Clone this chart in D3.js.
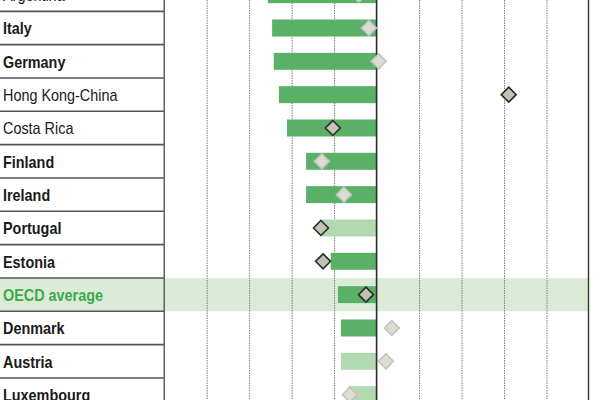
<!DOCTYPE html>
<html>
<head>
<meta charset="utf-8">
<script src="https://cdn.jsdelivr.net/npm/d3@7"></script>
<style>
  html, body { margin: 0; padding: 0; background: #fff; }
  svg { display: block; }
  .label { font-family: "Liberation Sans", Arial, sans-serif; }
</style>
</head>
<body>
<div id="chart"></div>
<script>
const countries = ["Argentina", "Italy", "Germany", "Hong Kong-China", "Costa Rica", "Finland", "Ireland",
  "Portugal", "Estonia", "OECD average", "Denmark", "Austria", "Luxembourg"];
// bar values (change, negative to the left of zero)
const barValues = [-25.6, -24.6, -24.2, -23.0, -21.1, -16.6, -16.6, -12.9, -10.8, -9.1, -8.4, -8.4, -6.5];
// is the bar significant (dark) or not (light)
const barSignificant = [true, true, true, true, true, true, true, false, true, true, true, false, false];
// diamond marker values
const markerValues = [-4.2, -1.8, 0.5, 31.1, -10.3, -12.9, -7.7, -13.1, -12.6, -2.5, 3.6, 2.2, -6.3];
const markerSignificant = [false, false, false, true, true, false, false, true, true, true, false, false, false];
// non-OECD countries are set in regular weight
const partners = ["Argentina", "Hong Kong-China", "Costa Rica"];
const gridTicks = [-40, -30, -20, -10, 10, 20, 30, 40];

const width = 600;
const height = 400;
const labelWidth = 164;

const svg = d3.select("#chart").append("svg")
  .attr("width", width)
  .attr("height", height);

const x = d3.scaleLinear()
  .domain([-50, 50])
  .range([164.2, 589]);

const y = d3.scaleBand()
  .domain(countries)
  .range([-22, 411.3]);

const rows = countries.map((c, i) => ({
  name: c,
  bar: barValues[i],
  barSig: barSignificant[i],
  marker: markerValues[i],
  markerSig: markerSignificant[i]
}));

// OECD average highlight band
svg.append("rect")
  .attr("x", 0)
  .attr("y", y("OECD average"))
  .attr("width", x(50))
  .attr("height", y.bandwidth())
  .attr("fill", "#dcebd8");

// dotted gridlines
svg.append("g")
  .selectAll("line")
  .data(gridTicks)
  .enter().append("line")
  .attr("x1", d => x(d) + 0.5)
  .attr("x2", d => x(d) + 0.5)
  .attr("y1", 0)
  .attr("y2", height)
  .attr("stroke", "#7a7a7a")
  .attr("stroke-width", 1)
  .attr("stroke-dasharray", "1.5,1");

// row separators in the label column
svg.append("g")
  .selectAll("line")
  .data(countries.slice(1))
  .enter().append("line")
  .attr("x1", 0)
  .attr("x2", labelWidth)
  .attr("y1", d => y(d))
  .attr("y2", d => y(d))
  .attr("stroke", "#555")
  .attr("stroke-width", 1.6);

// label column border and right frame
svg.append("line")
  .attr("x1", x(-50)).attr("x2", x(-50))
  .attr("y1", 0).attr("y2", height)
  .attr("stroke", "#555").attr("stroke-width", 1.4);
svg.append("line")
  .attr("x1", x(50) - 0.5).attr("x2", x(50) - 0.5)
  .attr("y1", 0).attr("y2", height)
  .attr("stroke", "#333").attr("stroke-width", 1.4);

// labels (narrowed to mimic the condensed face)
svg.append("g")
  .selectAll("text")
  .data(rows)
  .enter().append("text")
  .attr("class", "label")
  .attr("transform", d => `translate(3,${y(d.name) + y.bandwidth() / 2 + 6.5}) scale(0.9,1)`)
  .attr("font-size", 16)
  .attr("font-weight", d => partners.includes(d.name) ? "normal" : "bold")
  .attr("fill", d => d.name === "OECD average" ? "#3ea84e" : "#1a1a1a")
  .text(d => d.name);

// bars
const barH = 17;
svg.append("g")
  .selectAll("rect")
  .data(rows)
  .enter().append("rect")
  .attr("x", d => x(Math.min(0, d.bar)))
  .attr("y", d => y(d.name) + (y.bandwidth() - barH) / 2)
  .attr("width", d => Math.abs(x(d.bar) - x(0)))
  .attr("height", barH)
  .attr("fill", d => d.barSig ? "#5bb068" : "#b3d9b0");

// zero line
svg.append("line")
  .attr("x1", x(0)).attr("x2", x(0))
  .attr("y1", 0).attr("y2", height)
  .attr("stroke", "#2b2b2b").attr("stroke-width", 1.6);

// diamonds
const dm = 7.5;
svg.append("g")
  .selectAll("path")
  .data(rows)
  .enter().append("path")
  .attr("transform", d => `translate(${x(d.marker)},${y(d.name) + y.bandwidth() / 2})`)
  .attr("d", `M0,${-dm}L${dm},0L0,${dm}L${-dm},0Z`)
  .attr("fill", d => d.markerSig ? "#c2c2b2" : "#dcdcd4")
  .attr("stroke", d => d.markerSig ? "#2b2b2b" : "#c4c4bc")
  .attr("stroke-width", 1.6);
</script>
</body>
</html>
